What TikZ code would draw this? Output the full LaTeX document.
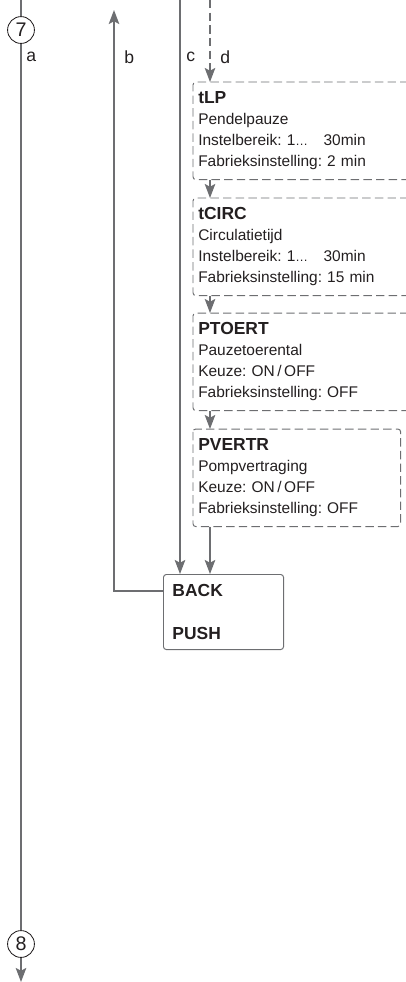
\documentclass[tikz,border=0pt]{standalone}
\usepackage{fontspec}
\setmainfont{Liberation Sans}
\usepackage{xcolor}
\usepackage{tikz}
\usetikzlibrary{arrows.meta}
\definecolor{wire}{HTML}{6D6E71}
\definecolor{ink}{HTML}{231F20}
\frenchspacing

\tikzset{
  wireline/.style={wire, line width=1.2pt},
  flow/.style={wireline, -{Stealth[length=10pt, width=7.5pt, inset=2pt]}},
  dashflow/.style={flow, dash pattern=on 6pt off 3pt},
  boxline/.style={wire, line width=0.7pt, dash pattern=on 6pt off 3pt, rounded corners=2pt},
  param/.style={anchor=north west, align=left, text=ink, inner xsep=0.125cm, inner ysep=0pt,
                minimum height=2.425cm, font=\fontsize{11}{15}\selectfont},
  marker/.style={circle, draw=ink, line width=0.6pt, minimum size=0.67cm, inner sep=0pt,
                 text=ink, font=\fontsize{14}{16}\selectfont},
  lbl/.style={anchor=west, inner sep=0pt, text=ink, font=\fontsize{12.5}{14}\selectfont}
}

\begin{document}
\begin{tikzpicture}[x=0.025cm, y=-0.025cm]
  \useasboundingbox (0,0) rectangle (406,982);

  % connector ends
  \coordinate (atop) at (21,0);
  \coordinate (abot) at (21,982);
  \coordinate (btop) at (114,10);
  \coordinate (bturn) at (114,591);
  \coordinate (ctop) at (180,0);
  \coordinate (dtop) at (210,0);

  % page markers
  \node[marker] (c7) at (21,30) {7};
  \node[marker] (c8) at (21,944) {8};

  % parameter boxes
  \node[param, text width=5.125cm] (tlp) at (193,82)
    {{\bfseries\fontsize{12.4}{15}\selectfont tLP}\\Pendelpauze\\Instelbereik: 1{\small…}\quad 30min\\Fabrieksinstelling: 2 min};
  \node[param, text width=5.125cm] (tcirc) at (193,198)
    {{\bfseries\fontsize{12.4}{15}\selectfont tCIRC}\\Circulatietijd\\Instelbereik: 1{\small…}\quad 30min\\Fabrieksinstelling: 15 min};
  \node[param, text width=5.125cm] (ptoert) at (193,313)
    {{\bfseries\fontsize{12.4}{15}\selectfont PTOERT}\\Pauzetoerental\\Keuze: ON\,/\,OFF\\Fabrieksinstelling: OFF};
  \node[param, text width=4.925cm] (pvertr) at (193,429)
    {{\bfseries\fontsize{12.4}{15}\selectfont PVERTR}\\Pompvertraging\\Keuze: ON\,/\,OFF\\Fabrieksinstelling: OFF};

  \draw[boxline] (tlp.north east) -- (tlp.north west) -- (tlp.south west) -- (tlp.south east);
  \draw[boxline] (tcirc.north east) -- (tcirc.north west) -- (tcirc.south west) -- (tcirc.south east);
  \draw[boxline] (ptoert.north east) -- (ptoert.north west) -- (ptoert.south west) -- (ptoert.south east);
  \draw[boxline] (pvertr.north west) rectangle (pvertr.south east);

  % menu box
  \node[anchor=north west, draw=wire, line width=0.7pt, rounded corners=2pt, align=left, text=ink,
        text width=2.55cm, inner xsep=0.225cm, inner ysep=0pt, minimum height=1.875cm,
        font=\bfseries\fontsize{12.4}{30.6}\selectfont] (menu) at (163,574) {BACK\\PUSH};

  % line labels
  \node[lbl] (la) at (26,57) {a};
  \node[lbl] (lb) at (124,57) {b};
  \node[lbl] (lc) at (186,57) {c};
  \node[lbl] (ld) at (220,57) {d};

  % connectors
  \draw[wireline] (atop) -- (c7);
  \draw[wireline] (c7) -- (c8);
  \draw[flow] (c8) -- (abot);
  \draw[flow] (bturn -| menu.west) -- (bturn) -- (btop);
  \draw[flow] (ctop) -- (ctop |- menu.north);
  \draw[dashflow] (dtop) -- (dtop |- tlp.north);
  \draw[dashflow] (dtop |- tlp.south) -- (dtop |- tcirc.north);
  \draw[dashflow] (dtop |- tcirc.south) -- (dtop |- ptoert.north);
  \draw[dashflow] (dtop |- ptoert.south) -- (dtop |- pvertr.north);
  \draw[flow] (dtop |- pvertr.south) -- (dtop |- menu.north);
\end{tikzpicture}
\end{document}
